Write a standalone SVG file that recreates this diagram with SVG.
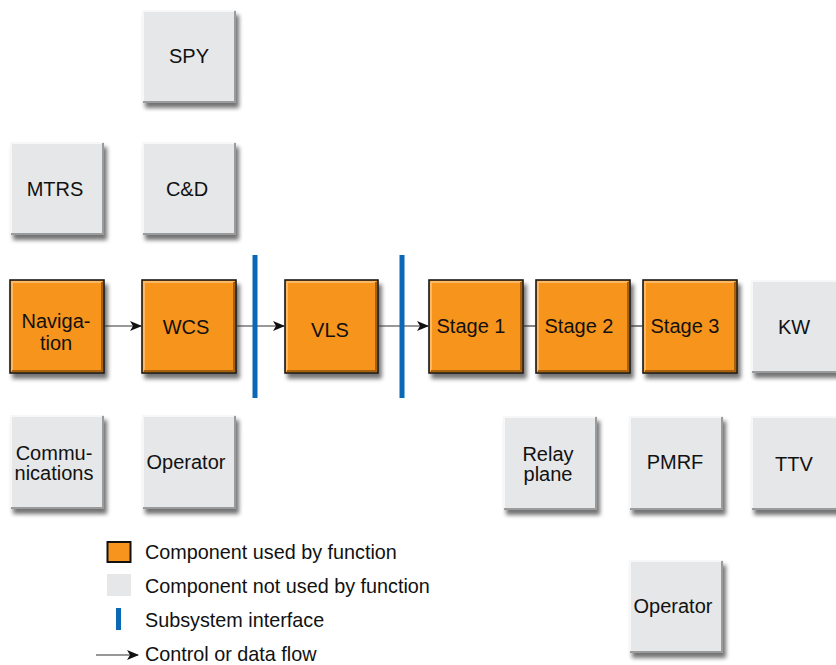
<svg xmlns="http://www.w3.org/2000/svg" width="836" height="665" viewBox="0 0 836 665">
<style>
text{font-family:"Liberation Sans",Arial,sans-serif;font-size:20px;fill:#111;}
.lbl{text-anchor:middle;}
.gray{fill:#e6e7e8;filter:url(#sh);}
.org{fill:#f7941d;stroke:#1a1a1a;stroke-width:1.6;filter:url(#sh);}
.hlg{fill:none;stroke:#f7f7f8;stroke-width:2;}
.dkg{fill:none;stroke:#9a9b9d;stroke-width:2;}
.hlo{fill:none;stroke:#fbb968;stroke-width:2;}
.dko{fill:none;stroke:#a9600c;stroke-width:2;}
.bar{fill:#0a68b4;}
.ln{stroke:#333;stroke-width:1.2;fill:none;}
.leg{font-size:19.8px;}
</style>
<defs>
<filter id="sh" x="-20%" y="-20%" width="150%" height="150%">
<feGaussianBlur in="SourceAlpha" stdDeviation="2.2"/>
<feOffset dx="3" dy="5" result="b"/>
<feComponentTransfer><feFuncA type="linear" slope="0.55"/></feComponentTransfer>
<feMerge><feMergeNode/><feMergeNode in="SourceGraphic"/></feMerge>
</filter>
<marker id="ah" viewBox="0 0 12 10" refX="11" refY="5" markerWidth="12" markerHeight="10" markerUnits="userSpaceOnUse" orient="auto">
<path d="M0,0 L12,5 L0,10 L3,5 Z" fill="#111"/>
</marker>
</defs>

<g id="SPY"><rect class="gray" x="142" y="10" width="94" height="93"/><path class="hlg" d="M143,102 V11 H235"/><path class="dkg" d="M235,11 V102 H143"/><text class="lbl" x="189" y="63">SPY</text></g>
<g id="MTRS"><rect class="gray" x="10" y="142" width="94" height="93"/><path class="hlg" d="M11,234 V143 H103"/><path class="dkg" d="M103,143 V234 H11"/><text class="lbl" x="55" y="196">MTRS</text></g>
<g id="CD"><rect class="gray" x="142" y="142" width="94" height="93"/><path class="hlg" d="M143,234 V143 H235"/><path class="dkg" d="M235,143 V234 H143"/><text class="lbl" x="187" y="196">C&amp;D</text></g>

<g id="Navigation"><rect class="org" x="10" y="280" width="94" height="93"/><path class="hlo" d="M12,371 V282 H102"/><path class="dko" d="M102,282 V371 H12"/><text class="lbl" x="56" y="328">Naviga-</text><text class="lbl" x="56" y="350">tion</text></g>
<g id="WCS"><rect class="org" x="142" y="280" width="94" height="93"/><path class="hlo" d="M144,371 V282 H234"/><path class="dko" d="M234,282 V371 H144"/><text class="lbl" x="186" y="334">WCS</text></g>
<g id="VLS"><rect class="org" x="285" y="280" width="93" height="93"/><path class="hlo" d="M287,371 V282 H376"/><path class="dko" d="M376,282 V371 H287"/><text class="lbl" x="330" y="337">VLS</text></g>
<g id="Stage1"><rect class="org" x="429" y="280" width="94" height="93"/><path class="hlo" d="M431,371 V282 H521"/><path class="dko" d="M521,282 V371 H431"/><text class="lbl" x="471" y="333">Stage 1</text></g>
<g id="Stage2"><rect class="org" x="536" y="280" width="94" height="93"/><path class="hlo" d="M538,371 V282 H628"/><path class="dko" d="M628,282 V371 H538"/><text class="lbl" x="579" y="333">Stage 2</text></g>
<g id="Stage3"><rect class="org" x="643" y="280" width="94" height="93"/><path class="hlo" d="M645,371 V282 H735"/><path class="dko" d="M735,282 V371 H645"/><text class="lbl" x="685" y="333">Stage 3</text></g>
<g id="KW"><rect class="gray" x="751" y="280" width="94" height="93"/><path class="hlg" d="M752,372 V281 H844"/><path class="dkg" d="M844,281 V372 H752"/><text class="lbl" x="794" y="334">KW</text></g>

<g id="Communications"><rect class="gray" x="10" y="415" width="94" height="94"/><path class="hlg" d="M11,508 V416 H103"/><path class="dkg" d="M103,416 V508 H11"/><text class="lbl" x="54" y="460">Commu-</text><text class="lbl" x="54" y="480">nications</text></g>
<g id="Operator1"><rect class="gray" x="142" y="415" width="94" height="94"/><path class="hlg" d="M143,508 V416 H235"/><path class="dkg" d="M235,416 V508 H143"/><text class="lbl" x="186" y="469">Operator</text></g>
<g id="RelayPlane"><rect class="gray" x="503" y="416" width="94" height="94"/><path class="hlg" d="M504,509 V417 H596"/><path class="dkg" d="M596,417 V509 H504"/><text class="lbl" x="548" y="461">Relay</text><text class="lbl" x="548" y="481">plane</text></g>
<g id="PMRF"><rect class="gray" x="629" y="416" width="94" height="94"/><path class="hlg" d="M630,509 V417 H722"/><path class="dkg" d="M722,417 V509 H630"/><text class="lbl" x="675" y="469">PMRF</text></g>
<g id="TTV"><rect class="gray" x="751" y="416" width="94" height="94"/><path class="hlg" d="M752,509 V417 H844"/><path class="dkg" d="M844,417 V509 H752"/><text class="lbl" x="794" y="471">TTV</text></g>
<g id="Operator2"><rect class="gray" x="629" y="560" width="94" height="93"/><path class="hlg" d="M630,652 V561 H722"/><path class="dkg" d="M722,561 V652 H630"/><text class="lbl" x="673" y="613">Operator</text></g>

<g id="connectors">
<line class="ln" x1="104" y1="326" x2="141" y2="326" marker-end="url(#ah)"/>
<line class="ln" x1="236" y1="326" x2="284" y2="326" marker-end="url(#ah)"/>
<line class="ln" x1="378" y1="326" x2="428" y2="326" marker-end="url(#ah)"/>
<line class="ln" x1="523" y1="326" x2="536" y2="326"/>
<line class="ln" x1="630" y1="326" x2="643" y2="326"/>
</g>

<g id="interfaces">
<rect class="bar" x="252.5" y="255" width="5" height="143"/>
<rect class="bar" x="399.5" y="255" width="5" height="143"/>
</g>

<g id="legend">
<rect x="107.5" y="542" width="23" height="20" fill="#f7941d" stroke="#111" stroke-width="2"/>
<text class="leg" x="145" y="559">Component used by function</text>
<rect x="107" y="574" width="24" height="22" fill="#e6e7e8"/>
<text class="leg" x="145" y="593">Component not used by function</text>
<rect class="bar" x="116" y="608" width="5" height="22"/>
<text class="leg" x="145" y="627">Subsystem interface</text>
<line class="ln" x1="96" y1="655" x2="138" y2="655" marker-end="url(#ah)"/>
<text class="leg" x="145" y="661">Control or data flow</text>
</g>
</svg>
